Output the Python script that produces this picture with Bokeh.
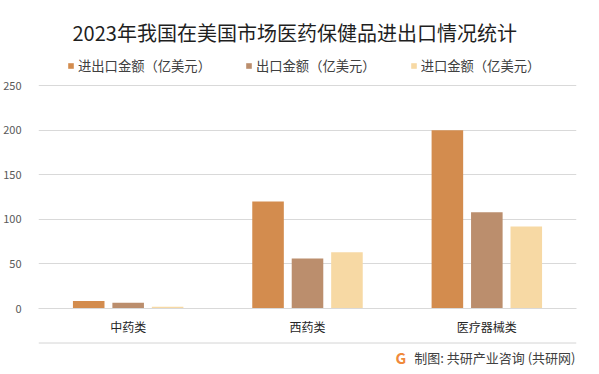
from bokeh.plotting import figure
from bokeh.layouts import column
from bokeh.models import (ColumnDataSource, FactorRange, Range1d, Legend, LegendItem,
                          Label, Span, FixedTicker)
from bokeh.transform import dodge
from bokeh.embed import file_html
from bokeh.resources import INLINE

# ---- data ----
categories = ["中药类", "西药类", "医疗器械类"]
series_names = ["进出口金额（亿美元）", "出口金额（亿美元）", "进口金额（亿美元）"]
total_values = [8.5, 120, 200]
export_values = [6.4, 56, 108]
import_values = [2.0, 63, 92]
y_ticks = [0, 50, 100, 150, 200, 250]
colors = ["#D38C4E", "#BB8E6D", "#F7D9A4"]

FONT = "Noto Sans CJK SC"

src = ColumnDataSource(dict(cat=categories, total=total_values,
                            export=export_values, imp=import_values))

# frame extends above the 250 gridline to hold the legend
p = figure(x_range=FactorRange(*categories), y_range=Range1d(0, 289.6),
           width=583, height=337, output_backend="svg", toolbar_location=None,
           min_border_left=31, min_border_right=7, min_border_top=50,
           min_border_bottom=28, background_fill_color="white",
           border_fill_color="white")
p.outline_line_color = None

# title
p.title.text = "2023年我国在美国市场医药保健品进出口情况统计"
p.title.align = "left"
p.title.offset = 34
p.title.text_font = FONT
p.title.text_font_size = "20px"
p.title.text_font_style = "normal"
p.title.text_color = "#1F1F1F"
p.title.standoff = 8

offsets = [-0.22, 0.0, 0.22]
fields = ["total", "export", "imp"]
renderers = []
for off, fld, col in zip(offsets, fields, colors):
    r = p.vbar(x=dodge("cat", off, range=p.x_range), top=fld, width=0.176,
               source=src, fill_color=col, line_color=None)
    renderers.append(r)

legend = Legend(items=[LegendItem(label=n, renderers=[r]) for n, r in zip(series_names, renderers)],
                orientation="horizontal", location=(29, 233))
legend.label_text_font = FONT
legend.label_text_font_size = "13.3px"
legend.label_text_color = "#404040"
legend.glyph_width = 7
legend.glyph_height = 7
legend.label_standoff = 4
legend.spacing = 34
legend.padding = 0
legend.margin = 0
legend.label_height = 14
legend.border_line_color = None
legend.background_fill_alpha = 0
p.add_layout(legend)

# axes
p.yaxis.ticker = FixedTicker(ticks=y_ticks)
p.yaxis.axis_line_color = None
p.yaxis.major_tick_line_color = None
p.yaxis.minor_tick_line_color = None
p.yaxis.major_label_standoff = 11
p.yaxis.major_label_text_font = FONT
p.yaxis.major_label_text_font_size = "11px"
p.yaxis.major_label_text_color = "#595959"

p.xaxis.axis_line_color = "#D9D9D9"
p.xaxis.major_tick_line_color = None
p.xaxis.minor_tick_line_color = None
p.xaxis.major_label_standoff = 3
p.xaxis.major_label_text_font = FONT
p.xaxis.major_label_text_font_size = "12px"
p.xaxis.major_label_text_color = "#262626"

p.xgrid.grid_line_color = None
p.ygrid.grid_line_color = "#D9D9D9"

# footer strip (its frame is aligned with the main frame by the column)
f = figure(width=583, height=31, output_backend="svg", toolbar_location=None,
           x_range=Range1d(0, 1), y_range=Range1d(0, 1),
           min_border_left=0, min_border_right=0, min_border_top=0,
           min_border_bottom=0, background_fill_color="white",
           border_fill_color="white")
f.outline_line_color = None
f.xaxis.visible = False
f.yaxis.visible = False
f.grid.visible = False
f.add_layout(Span(location=25.5, location_units="screen", dimension="width",
                  line_color="#D4D4D4", line_width=1))
f.add_layout(Label(x=357, y=11, x_units="screen", y_units="screen", text="G",
                   text_font=FONT, text_font_size="15px", text_font_style="bold",
                   text_color="#F08A3C", text_baseline="middle"))
f.add_layout(Label(x=537, y=11, x_units="screen", y_units="screen",
                   text="制图: 共研产业咨询 (共研网)", text_font=FONT,
                   text_font_size="13px", text_color="#404040",
                   text_baseline="middle", text_align="right"))

open("out.html", "w").write(file_html(column(p, f, spacing=0), INLINE))
